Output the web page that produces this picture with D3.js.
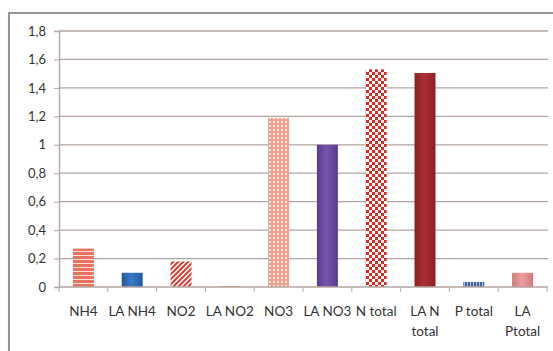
<!DOCTYPE html>
<html>
<head>
<meta charset="utf-8">
<script src="https://cdn.jsdelivr.net/npm/d3@7/dist/d3.min.js"></script>
<style>
  html, body { margin: 0; padding: 0; background: #fff; }
  svg { display: block; }
  text { font-family: Lato, "Open Sans", "Liberation Sans", sans-serif; }
</style>
</head>
<body>
<svg id="chart" width="553" height="351"></svg>
<script>
// Concentrations per parameter
const categories = ["NH4", "LA NH4", "NO2", "LA NO2", "NO3", "LA NO3", "N total", "LA N total", "P total", "LA Ptotal"];
const labelLines = [["NH4"], ["LA NH4"], ["NO2"], ["LA NO2"], ["NO3"], ["LA NO3"], ["N total"], ["LA N", "total"], ["P total"], ["LA", "Ptotal"]];
const values = [0.27, 0.10, 0.18, 0.005, 1.19, 1.0, 1.53, 1.505, 0.035, 0.10];
const yTicks = [0, 0.2, 0.4, 0.6, 0.8, 1, 1.2, 1.4, 1.6, 1.8];
const fills = ["url(#hstripe)", "url(#gBlue)", "url(#dstripe)", "#e07830", "url(#smallcheck)",
               "url(#gPurple)", "url(#bigcheck)", "url(#gDarkRed)", "url(#vstripe)", "url(#gPink)"];

const svg = d3.select("#chart");
const defs = svg.append("defs");

// striped / checkered fills
function pattern(id, w, h, draw) {
  const p = defs.append("pattern").attr("id", id).attr("patternUnits", "userSpaceOnUse")
    .attr("width", w).attr("height", h);
  draw(p);
}
pattern("hstripe", 4, 4, p => {
  p.append("rect").attr("width", 4).attr("height", 4).attr("fill", "#e8735f");
  p.append("rect").attr("y", 3).attr("width", 4).attr("height", 1).attr("fill", "#fbe0da");
});
pattern("dstripe", 5, 5, p => {
  p.append("rect").attr("width", 5).attr("height", 5).attr("fill", "#fff");
  p.append("path").attr("d", "M-1,6 L6,-1 M-1,1 L1,-1 M4,6 L6,4").attr("stroke", "#d8403a").attr("stroke-width", 2);
});
pattern("smallcheck", 4, 4, p => {
  p.append("rect").attr("width", 4).attr("height", 4).attr("fill", "#f0a090");
  p.append("rect").attr("x", 1).attr("y", 1).attr("width", 2).attr("height", 2).attr("fill", "#fde8e4");
});
pattern("bigcheck", 6, 6, p => {
  p.append("rect").attr("width", 6).attr("height", 6).attr("fill", "#fff");
  p.append("rect").attr("width", 3).attr("height", 3).attr("fill", "#dc2a22");
  p.append("rect").attr("x", 3).attr("y", 3).attr("width", 3).attr("height", 3).attr("fill", "#dc2a22");
});
pattern("vstripe", 3, 3, p => {
  p.append("rect").attr("width", 3).attr("height", 3).attr("fill", "#b8c8e0");
  p.append("rect").attr("width", 2).attr("height", 3).attr("fill", "#3c60a0");
});

// glossy horizontal gradients for the solid bars
function grad(id, edge, mid) {
  const g = defs.append("linearGradient").attr("id", id).attr("x1", "0").attr("x2", "1");
  g.append("stop").attr("offset", "0").attr("stop-color", edge);
  g.append("stop").attr("offset", "0.45").attr("stop-color", mid);
  g.append("stop").attr("offset", "1").attr("stop-color", edge);
}
grad("gBlue", "#20589c", "#3a7cc8");
grad("gPurple", "#5a3a90", "#7656ac");
grad("gDarkRed", "#8c2024", "#ac3034");
grad("gPink", "#d07878", "#eba0a0");

// outer chart frame
const shadow = defs.append("filter").attr("id", "shadow").attr("x", "-5%").attr("y", "-5%").attr("width", "110%").attr("height", "110%");
shadow.append("feDropShadow").attr("dx", 1).attr("dy", 1).attr("stdDeviation", 1).attr("flood-color", "#999").attr("flood-opacity", 0.6);
svg.append("rect").attr("x", 9).attr("y", 13).attr("width", 560).attr("height", 360)
  .attr("fill", "#fff").attr("stroke", "#7a7470").attr("stroke-width", 1.5).attr("filter", "url(#shadow)");

const plot = { left: 59, right: 547, top: 31, bottom: 287 };
const x = d3.scaleBand().domain(categories).range([plot.left, plot.right]).paddingInner(0.57).paddingOuter(0.285);
const xTicks = d3.scaleBand().domain(categories).range([plot.left, plot.right]);
const y = d3.scaleLinear().domain([0, 1.8]).range([plot.bottom, plot.top]);

const fmt = d => d3.format("")(d).replace(".", ",");

// horizontal gridlines
svg.append("g").selectAll("line").data(yTicks.filter(d => d > 0)).join("line")
  .attr("x1", plot.left).attr("x2", plot.right + 1)
  .attr("y1", d => y(d)).attr("y2", d => y(d))
  .attr("stroke", "#b3a49e").attr("stroke-width", 1.3);

// y axis
const yAxis = svg.append("g").attr("transform", `translate(${plot.left},0)`)
  .call(d3.axisLeft(y).tickValues(yTicks).tickFormat(fmt).tickSize(5).tickPadding(8));
yAxis.select(".domain").attr("stroke", "#b3a49e").attr("stroke-width", 1.3);
yAxis.selectAll(".tick line").attr("stroke", "#b3a49e");
yAxis.selectAll(".tick text").attr("fill", "#333").attr("font-size", 13);

// bars
svg.append("g").selectAll("rect").data(categories).join("rect")
  .attr("x", d => x(d)).attr("width", x.bandwidth())
  .attr("y", (d, i) => y(values[i])).attr("height", (d, i) => y(0) - y(values[i]))
  .attr("fill", (d, i) => fills[i]);

// x axis line and ticks
const xg = svg.append("g");
xg.append("line").attr("x1", plot.left).attr("x2", plot.right + 1).attr("y1", y(0)).attr("y2", y(0))
  .attr("stroke", "#b3a49e").attr("stroke-width", 1.3);
xg.selectAll("line.tk").data(categories.concat(["end"])).join("line").attr("class", "tk")
  .attr("x1", (d, i) => plot.left + i * xTicks.bandwidth())
  .attr("x2", (d, i) => plot.left + i * xTicks.bandwidth())
  .attr("y1", y(0)).attr("y2", y(0) + 5).attr("stroke", "#b3a49e");

// category labels
const lbl = svg.append("g").selectAll("text").data(categories).join("text")
  .attr("x", d => x(d) + x.bandwidth() / 2).attr("y", 316)
  .attr("text-anchor", "middle").attr("fill", "#333").attr("font-size", 13.5);
lbl.each(function(d, i) {
  d3.select(this).selectAll("tspan").data(labelLines[i]).join("tspan")
    .attr("x", x(d) + x.bandwidth() / 2).attr("dy", (t, j) => j === 0 ? 0 : 20).text(t => t);
});
</script>
</body>
</html>
